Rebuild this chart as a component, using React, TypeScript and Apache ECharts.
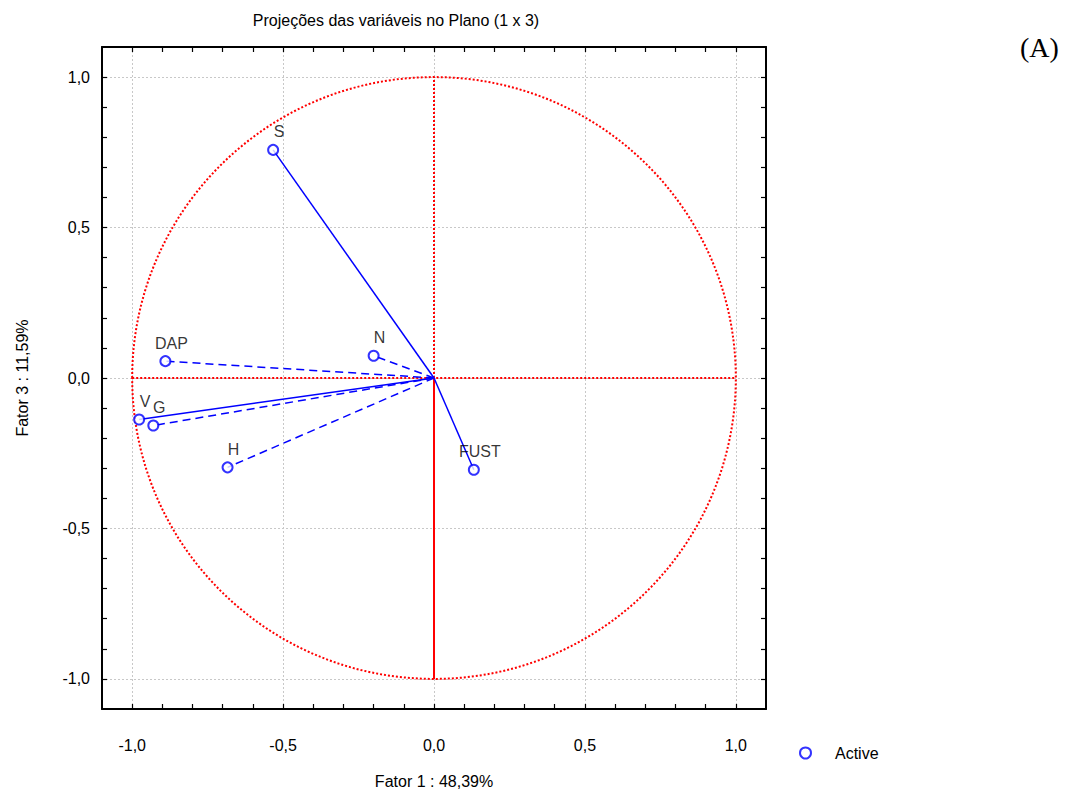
import React, { useEffect, useRef } from "react";
import * as echarts from "echarts";

const variables = ["S", "N", "DAP", "V", "G", "H", "FUST"];
const fator1 = [-0.533, -0.2, -0.89, -0.977, -0.93, -0.684, 0.132];
const fator3 = [0.758, 0.074, 0.056, -0.138, -0.158, -0.297, -0.305];
const solidVars = ["S", "V", "FUST"];

const tickValues = [-1.0, -0.9, -0.8, -0.7, -0.6, -0.5, -0.4, -0.3, -0.2, -0.1, 0.0, 0.1, 0.2, 0.3, 0.4, 0.5, 0.6, 0.7, 0.8, 0.9, 1.0];
const labelValues = [-1.0, -0.5, 0.0, 0.5, 1.0];
const circleCenter = [0, 0];
const circleRadius = 1;
const hAxisLine = [[-1, 0], [1, 0]];
const vAxisUpper = [[0, 0], [0, 1]];
const vAxisLower = [[0, 0], [0, -1]];

const FONT = "'Liberation Sans', Arial, sans-serif";
const BLUE = "#0000ff";
const RED = "#ff0000";

const fmt = (v: number) => v.toFixed(1).replace(".", ",");

export default function App() {
  const ref = useRef<HTMLDivElement>(null);
  useEffect(() => {
    if (!ref.current) return;
    const chart = echarts.init(ref.current, null, { renderer: "svg" });

    const tickAxis = (pos: string, labelMargin: number | null) => ({
      type: "value",
      min: -1.1,
      max: 1.1,
      position: pos,
      axisLine: { show: true, onZero: false, lineStyle: { color: "#000", width: 2 } },
      axisTick: {
        show: true,
        inside: true,
        length: 5,
        customValues: tickValues,
        lineStyle: { color: "#000", width: 1.2 },
      },
      axisLabel:
        labelMargin !== null
          ? {
              show: true,
              customValues: labelValues,
              formatter: fmt,
              fontSize: 16,
              color: "#000",
              fontFamily: FONT,
              margin: labelMargin,
            }
          : { show: false },
      splitLine: { show: false },
    });

    const gridAxis = (pos: string) => ({
      type: "value",
      min: -1.1,
      max: 1.1,
      position: pos,
      offset: 0,
      axisLine: { show: false },
      axisTick: { show: false },
      axisLabel: { show: false },
      splitLine: { show: true, lineStyle: { color: "#c8c8c8", type: [2, 2], width: 1 } },
    });

    const lineSeries = variables.map((v, i) => ({
      type: "line",
      name: "vec-" + v,
      data: [
        [0, 0],
        [fator1[i], fator3[i]],
      ],
      symbol: "none",
      lineStyle: {
        color: BLUE,
        width: 1.5,
        type: solidVars.includes(v) ? "solid" : [8, 5],
      },
      z: 5,
      silent: true,
    }));

    const option: any = {
      animation: false,
      backgroundColor: "#fff",
      title: {
        text: "Projeções das variáveis no Plano (1 x 3)",
        left: 391,
        top: 7,
        textAlign: "center",
        textStyle: { fontSize: 16, fontWeight: "normal", color: "#000", fontFamily: FONT },
      },
      legend: {
        left: 794,
        top: 740,
        itemWidth: 11,
        itemHeight: 11,
        itemGap: 10,
        data: ["Active"],
        textStyle: { fontSize: 16, color: "#000", fontFamily: FONT, padding: [0, 0, 0, 19] },
      },
      grid: { left: 102, top: 47, width: 664, height: 662 },
      xAxis: [
        {
          ...tickAxis("bottom", 28),
          name: "Fator 1 : 48,39%",
          nameLocation: "middle",
          nameGap: 64,
          nameTextStyle: { fontSize: 16, color: "#000", fontFamily: FONT },
        },
        tickAxis("top", null),
        gridAxis("top"),
      ],
      yAxis: [
        {
          ...tickAxis("left", 12),
          name: "Fator 3 : 11,59%",
          nameLocation: "middle",
          nameRotate: 90,
          nameGap: 72,
          nameTextStyle: { fontSize: 16, color: "#000", fontFamily: FONT },
        },
        tickAxis("right", null),
        gridAxis("right"),
      ],
      graphic: [
        {
          type: "text",
          left: 1020,
          top: 33,
          style: { text: "(A)", fontSize: 28, fill: "#000", fontFamily: "'Liberation Serif', 'Times New Roman', serif" },
        },
      ],
      series: [
        {
          type: "custom",
          name: "circle",
          silent: true,
          z: 3,
          data: [[circleCenter[0], circleCenter[1], circleRadius]],
          renderItem: (params: any, api: any) => {
            const c = api.coord([api.value(0), api.value(1)]);
            const s = api.size([api.value(2), api.value(2)]);
            return {
              type: "ellipse",
              shape: { cx: c[0], cy: c[1], rx: s[0], ry: s[1] },
              style: { fill: "none", stroke: RED, lineWidth: 2, lineDash: [2, 2] },
            };
          },
        },
        {
          type: "line",
          name: "h0",
          data: hAxisLine,
          symbol: "none",
          silent: true,
          z: 3,
          lineStyle: { color: RED, width: 2, type: [2, 2] },
        },
        {
          type: "line",
          name: "v0u",
          data: vAxisUpper,
          symbol: "none",
          silent: true,
          z: 3,
          lineStyle: { color: RED, width: 2, type: [2, 2] },
        },
        {
          type: "line",
          name: "v0l",
          data: vAxisLower,
          symbol: "none",
          silent: true,
          z: 3,
          lineStyle: { color: RED, width: 2, type: "solid" },
        },
        ...lineSeries,
        {
          type: "scatter",
          name: "Active",
          symbol: "emptyCircle",
          symbolSize: 10,
          z: 6,
          itemStyle: { color: BLUE, borderColor: BLUE, borderWidth: 2 },
          data: variables.map((v, i) => ({ name: v, value: [fator1[i], fator3[i]] })),
          label: {
            show: true,
            position: "top",
            distance: 4,
            offset: [6, 0],
            formatter: (p: any) => p.name,
            fontSize: 16,
            color: "#000",
            fontFamily: FONT,
          },
        },
      ],
    };
    chart.setOption(option);
    return () => chart.dispose();
  }, []);
  return (
    <div
      ref={ref}
      style={{ position: "fixed", left: 0, top: 0, width: 1070, height: 796, background: "#fff" }}
    />
  );
}
